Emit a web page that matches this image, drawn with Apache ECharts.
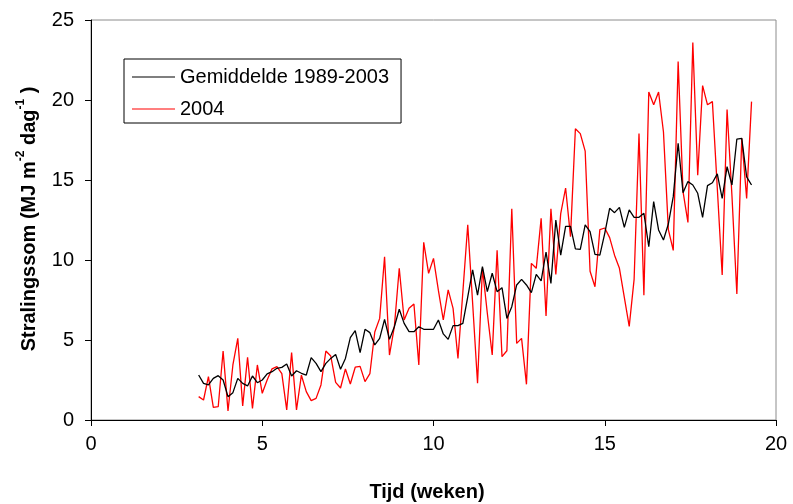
<!DOCTYPE html>
<html>
<head>
<meta charset="utf-8">
<script src="https://cdn.jsdelivr.net/npm/echarts@6/dist/echarts.min.js"></script>
<style>
html,body{margin:0;padding:0;background:#fff;}
#chart{width:793px;height:504px;}
</style>
</head>
<body>
<div id="chart"></div>
<script>
// Day-of-year index of the first observation (x axis is in weeks = day / 7)
const startDay = 22;

const seriesNames = ['Gemiddelde 1989-2003', '2004'];

// Gemiddelde 1989-2003 (MJ m-2 dag-1), one value per day from startDay
const avgValues = [
  2.81, 2.29, 2.19, 2.6, 2.77, 2.5, 1.46, 1.71, 2.6, 2.29,
  2.13, 2.75, 2.33, 2.5, 2.88, 3.02, 3.23, 3.29, 3.5, 2.75,
  3.08, 2.92, 2.81, 3.9, 3.54, 3.02, 3.54, 3.85, 4.1, 3.17,
  3.85, 5.15, 5.58, 4.21, 5.67, 5.46, 4.69, 5.1, 6.29, 5.04,
  5.83, 6.92, 6.04, 5.52, 5.52, 5.83, 5.67, 5.67, 5.67, 6.25,
  5.38, 5.04, 5.9, 5.9, 6.04, 7.7, 9.38, 7.8, 9.58, 8.02,
  9.17, 8.02, 8.27, 6.35, 7.08, 8.44, 8.79, 8.44, 7.96, 9.1,
  8.69, 10.5, 8.54, 12.5, 10.3, 12.1, 12.1, 10.7, 10.67, 12.19,
  11.77, 10.35, 10.31, 11.67, 13.23, 12.96, 13.29, 12.04, 13.13, 12.67,
  12.67, 12.92, 10.83, 13.65, 11.88, 11.25, 12.25, 13.96, 17.3, 14.2,
  14.9, 14.69, 14.17, 12.67, 14.65, 14.83, 15.38, 13.85, 15.83, 14.69,
  17.56, 17.6, 15.2, 14.69
];

// 2004 (MJ m-2 dag-1), one value per day from startDay
const values2004 = [
  1.46, 1.25, 2.71, 0.79, 0.83, 4.31, 0.56, 3.44, 5.1, 0.88,
  3.92, 0.73, 3.44, 1.67, 2.5, 3.2, 3.33, 2.9, 0.63, 4.22,
  0.63, 2.8, 1.77, 1.21, 1.35, 2.19, 4.31, 4.0, 2.35, 2.0,
  3.19, 2.25, 3.3, 3.35, 2.4, 2.9, 5.5, 6.35, 10.2, 4.06,
  5.83, 9.48, 6.25, 6.98, 7.25, 3.44, 11.1, 9.17, 10.1, 8.1,
  6.25, 8.13, 6.98, 3.85, 8.0, 12.2, 7.3, 2.3, 9.48, 6.67,
  4.06, 10.6, 3.96, 4.33, 13.2, 4.79, 5.1, 2.23, 9.79, 9.48,
  12.6, 6.5, 13.2, 9.1, 12.9, 14.5, 11.46, 18.2, 17.9, 16.8,
  9.3, 8.33, 11.9, 12.0, 11.4, 10.3, 9.48, 7.67, 5.85, 8.79,
  17.9, 7.8, 20.5, 19.7, 20.5, 18.0, 11.9, 10.6, 22.4, 14.27,
  12.35, 23.6, 15.3, 20.9, 19.7, 19.9, 14.5, 9.06, 19.4, 14.0,
  7.88, 17.6, 13.85, 19.9
];

const xTicks = [0, 5, 10, 15, 20];
const yTicks = [0, 5, 10, 15, 20, 25];

const FONT = '"Liberation Sans", Arial, sans-serif';

function toPairs(vals) {
  return vals.map((v, i) => [(startDay + i) / 7, v]);
}

const chart = echarts.init(document.getElementById('chart'), null, {renderer: 'canvas'});

const option = {
  backgroundColor: '#ffffff',
  animation: false,
  grid: {
    left: 91, top: 20, right: 17, bottom: 84,
    show: true, borderColor: '#8c8c8c', borderWidth: 1, backgroundColor: 'transparent'
  },
  legend: {
    orient: 'vertical',
    left: 124, top: 59,
    padding: [7, 12, 3, 8],
    itemGap: 10,
    itemWidth: 43,
    itemHeight: 1,
    borderColor: '#000', borderWidth: 1,
    backgroundColor: '#fff',
    textStyle: {fontFamily: FONT, fontSize: 20, color: '#000', lineHeight: 22, padding: [0, 0, 0, 0]},
    data: [
      {name: seriesNames[0], icon: 'rect'},
      {name: seriesNames[1], icon: 'rect'}
    ]
  },
  xAxis: {
    type: 'value', min: xTicks[0], max: xTicks[xTicks.length - 1], interval: 5,
    axisLine: {show: true, onZero: false, lineStyle: {color: '#000', width: 1}},
    axisTick: {show: true, length: 6, lineStyle: {color: '#000'}},
    axisLabel: {fontFamily: FONT, fontSize: 20, color: '#000', margin: 14},
    splitLine: {show: false}
  },
  yAxis: {
    type: 'value', min: yTicks[0], max: yTicks[yTicks.length - 1], interval: 5,
    axisLine: {show: true, onZero: false, lineStyle: {color: '#000', width: 1}},
    axisTick: {show: true, length: 6, lineStyle: {color: '#000'}},
    axisLabel: {fontFamily: FONT, fontSize: 20, color: '#000', margin: 17},
    splitLine: {show: false}
  },
  graphic: [
    {
      type: 'text',
      x: 29, y: 219,
      rotation: Math.PI / 2,
      style: {
        text: '{b|Stralingssom (MJ m}{s|-2}{b| dag}{s|-1}{b| )}',
        align: 'center', verticalAlign: 'middle',
        rich: {
          b: {fontFamily: FONT, fontSize: 20, fontWeight: 'bold', fill: '#000', lineHeight: 28, verticalAlign: 'middle'},
          s: {fontFamily: FONT, fontSize: 12, fontWeight: 'bold', fill: '#000', lineHeight: 14, verticalAlign: 'top'}
        }
      }
    },
    {
      type: 'text',
      x: 427, y: 492,
      style: {
        text: 'Tijd (weken)',
        fontFamily: FONT, fontSize: 20, fontWeight: 'bold', fill: '#000',
        align: 'center', verticalAlign: 'middle'
      }
    }
  ],
  series: [
    {
      name: seriesNames[0], type: 'line', data: toPairs(avgValues),
      symbol: 'none', color: '#000000', z: 3,
      lineStyle: {color: '#000000', width: 1.3}
    },
    {
      name: seriesNames[1], type: 'line', data: toPairs(values2004),
      symbol: 'none', color: '#ff0000', z: 1,
      lineStyle: {color: '#ff0000', width: 1.3}
    }
  ]
};
chart.setOption(option);
</script>
</body>
</html>
